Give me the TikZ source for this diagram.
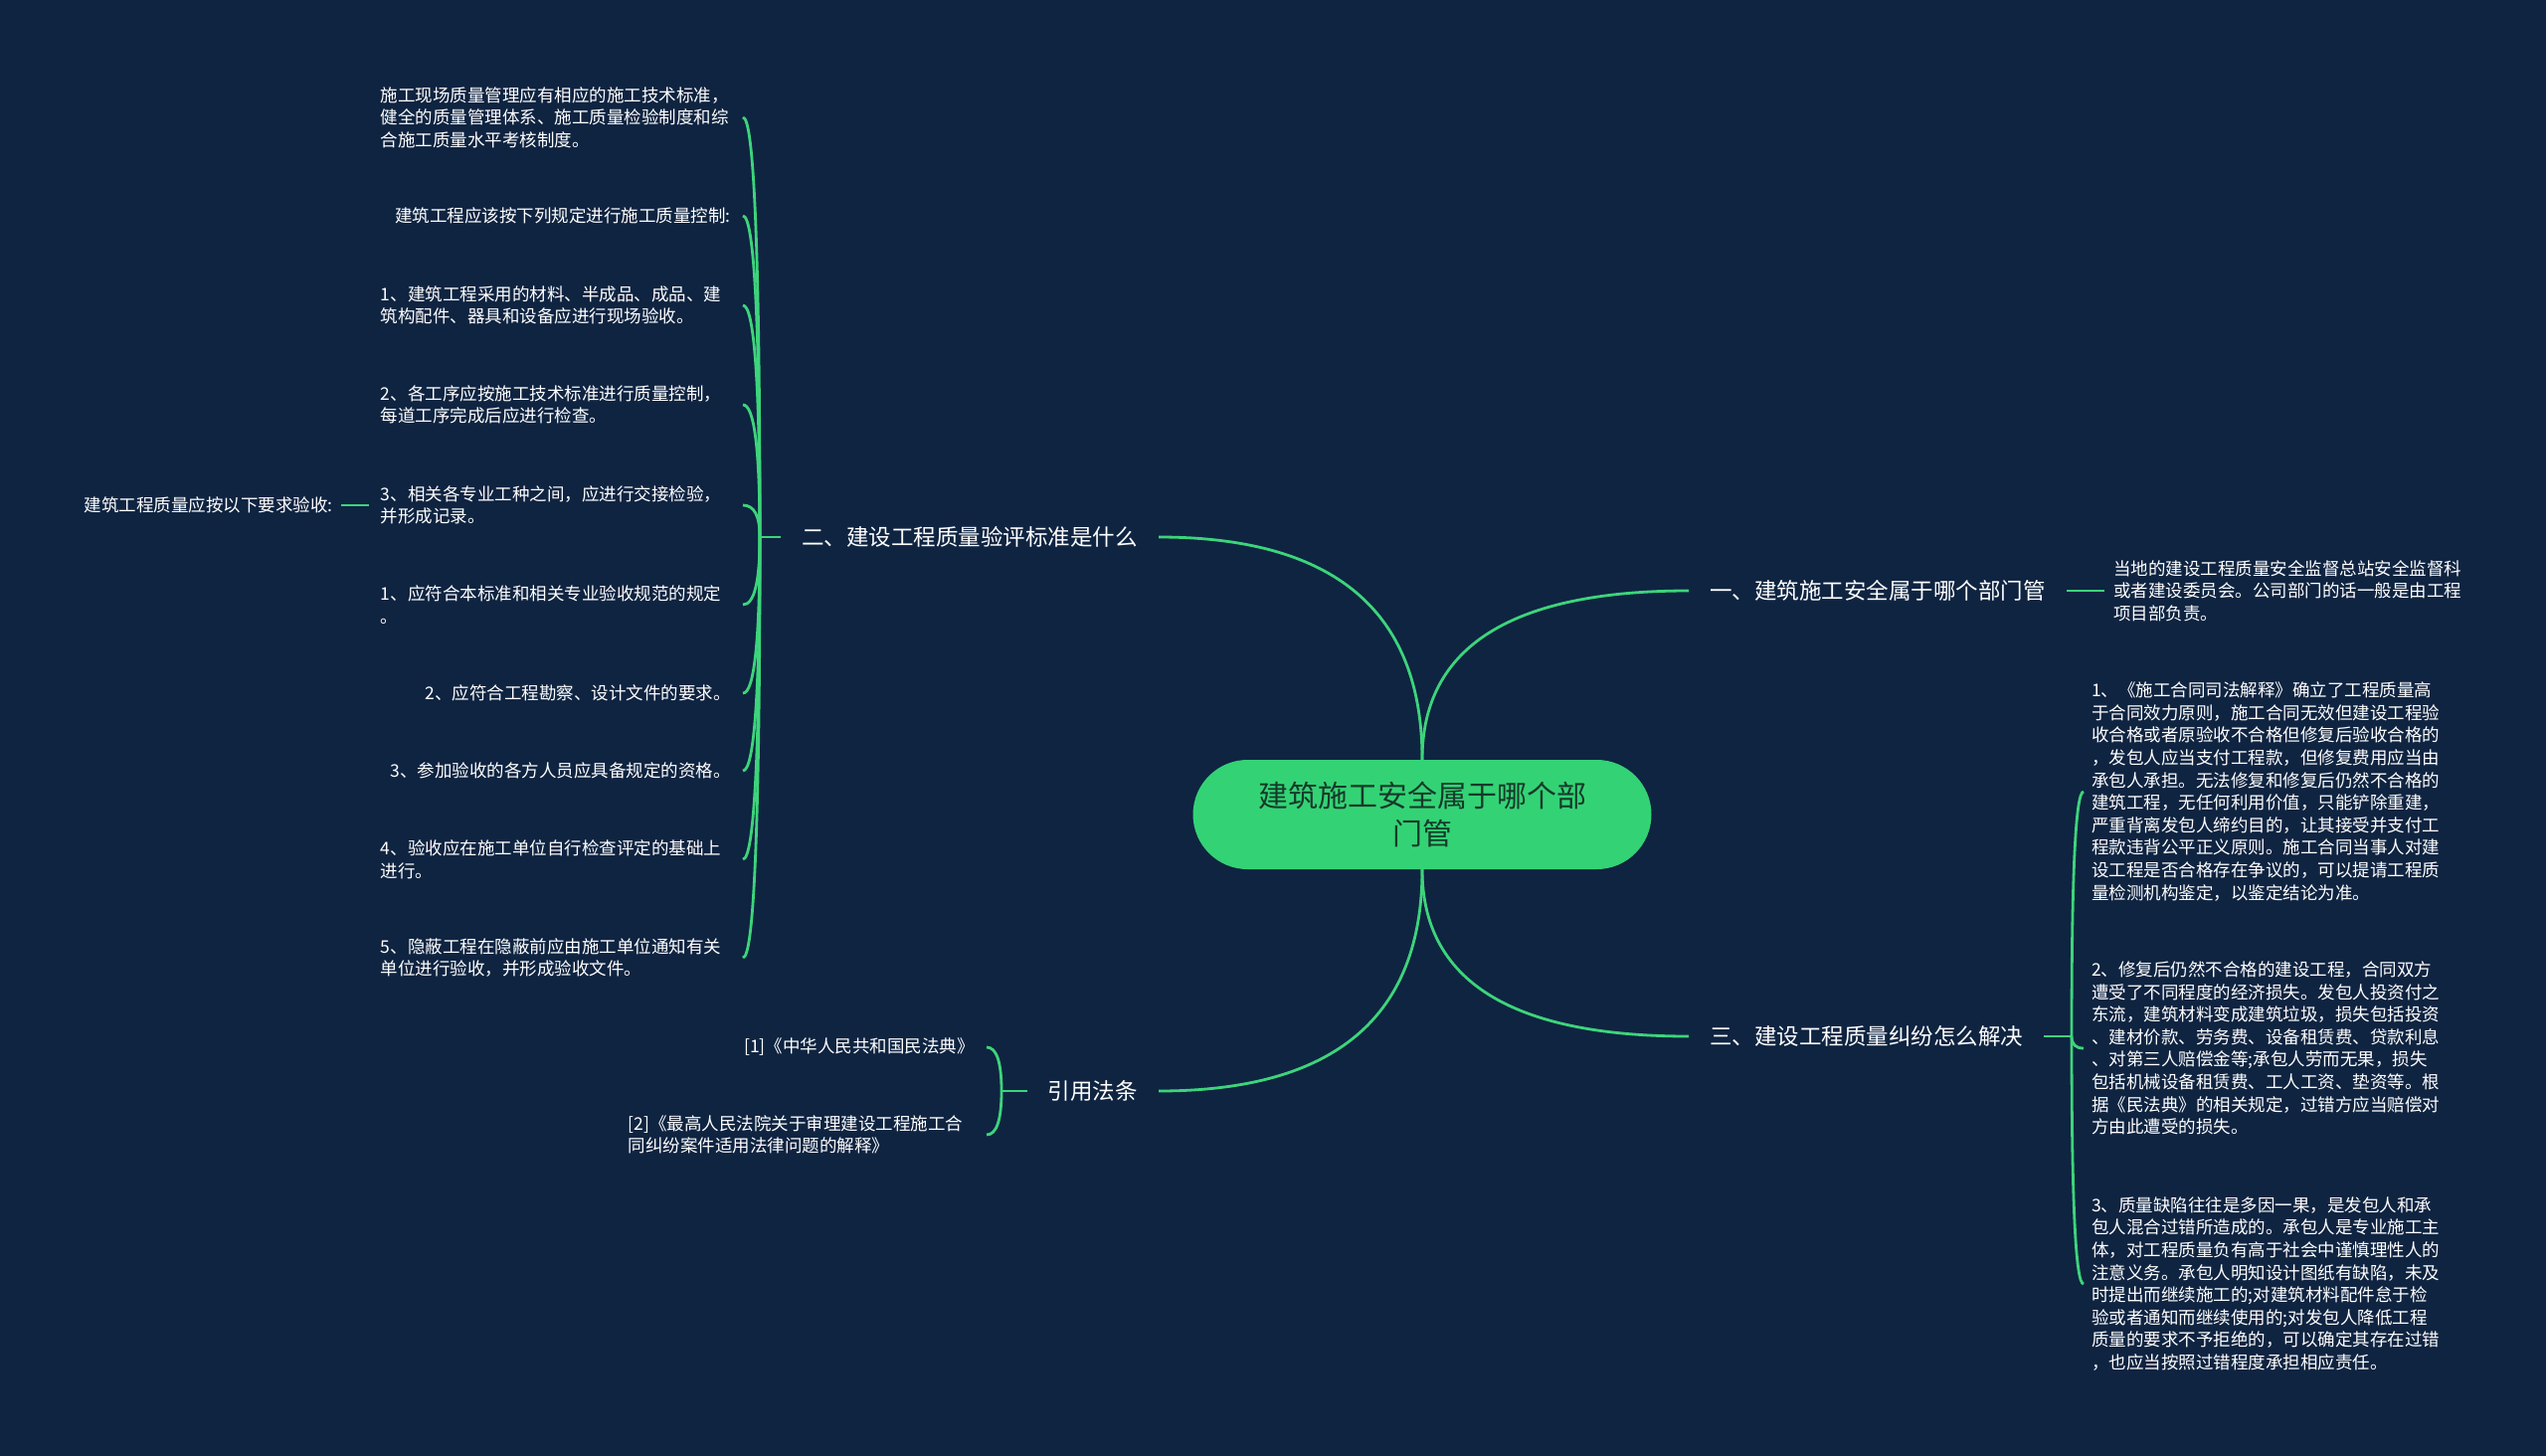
\documentclass[tikz,border=0pt]{standalone}
\usepackage{fontspec}
\setmainfont{Noto Sans CJK SC}
\usetikzlibrary{calc}
\definecolor{bgnavy}{HTML}{0F2441}
\definecolor{mmgreen}{HTML}{33D375}
\definecolor{linkgreen}{HTML}{3DD47B}
\definecolor{roottext}{HTML}{17392A}
\pgfdeclarelayer{bglayer}
\pgfdeclarelayer{linklayer}
\pgfsetlayers{bglayer,linklayer,main}
\tikzset{
  link/.style={draw=linkgreen, line width=2.8pt},
  rootnode/.style={fill=mmgreen, rounded corners=55pt, minimum width=461pt, minimum height=110pt,
    align=center, text=roottext, font=\fontsize{30}{38}\selectfont},
  branch/.style={text=white, inner xsep=21pt, inner ysep=4pt, font=\fontsize{22.5}{28}\selectfont},
  leafL/.style={text=white, anchor=east, inner xsep=12pt, inner ysep=3pt, align=left,
    font=\fontsize{17.5}{22.6}\selectfont},
  leafR/.style={text=white, anchor=west, inner xsep=8pt, inner ysep=3pt, align=left,
    font=\fontsize{17.5}{22.6}\selectfont},
  wide/.style={text width=352pt},
}
% quadratic-like link: start, corner, end
\newcommand\qlink[3]{\draw[link] (#1) .. controls ($(#1)!0.667!(#2)$) and ($(#3)!0.667!(#2)$) .. (#3);}
\begin{document}
\begin{tikzpicture}[x=1pt,y=-1pt]
\useasboundingbox (0,0) rectangle (2560,1464);
\begin{pgfonlayer}{bglayer}
  \fill[bgnavy] (0,0) rectangle (2560,1464);
\end{pgfonlayer}

% root
\node[rootnode] (root) at (1430,819) {建筑施工安全属于哪个部\\门管};

% branches
\node[branch, anchor=east] (b2) at (1165,540) {二、建设工程质量验评标准是什么};
\node[branch, anchor=west] (b1) at (1698,594) {一、建筑施工安全属于哪个部门管};
\node[branch, anchor=west] (b3) at (1698,1042) {三、建设工程质量纠纷怎么解决};
\node[branch, anchor=east] (b4) at (1165,1097) {引用法条};

% left leaves
\node[leafL, wide] (l1) at (747,118) {施工现场质量管理应有相应的施工技术标准，\\健全的质量管理体系、施工质量检验制度和综\\合施工质量水平考核制度。};
\node[leafL] (l2) at (747,217) {建筑工程应该按下列规定进行施工质量控制:};
\node[leafL, wide] (l3) at (747,307) {1、建筑工程采用的材料、半成品、成品、建\\筑构配件、器具和设备应进行现场验收。};
\node[leafL, wide] (l4) at (747,407) {2、各工序应按施工技术标准进行质量控制，\\每道工序完成后应进行检查。};
\node[leafL, wide] (l5) at (747,508) {3、相关各专业工种之间，应进行交接检验，\\并形成记录。};
\node[leafL, wide] (l6) at (747,608) {1、应符合本标准和相关专业验收规范的规定\\。};
\node[leafL] (l7) at (747,697) {2、应符合工程勘察、设计文件的要求。};
\node[leafL] (l8) at (747,775) {3、参加验收的各方人员应具备规定的资格。};
\node[leafL, wide] (l9) at (747,864) {4、验收应在施工单位自行检查评定的基础上\\进行。};
\node[leafL, wide] (l10) at (747,963) {5、隐蔽工程在隐蔽前应由施工单位通知有关\\单位进行验收，并形成验收文件。};
\node[leafL, inner xsep=8pt] (l5c) at (343,508) {建筑工程质量应按以下要求验收:};

% references
\node[leafL] (f1) at (992,1053) {[1]《中华人民共和国民法典》};
\node[leafL, text width=348pt] (f2) at (992,1141) {[2]《最高人民法院关于审理建设工程施工合\\同纠纷案件适用法律问题的解释》};

% right leaves
\node[leafR, wide, inner xsep=9pt] (r0) at (2116,594) {当地的建设工程质量安全监督总站安全监督科\\或者建设委员会。公司部门的话一般是由工程\\项目部负责。};
\node[leafR, wide] (r1) at (2095,796) {1、《施工合同司法解释》确立了工程质量高\\于合同效力原则，施工合同无效但建设工程验\\收合格或者原验收不合格但修复后验收合格的\\，发包人应当支付工程款，但修复费用应当由\\承包人承担。无法修复和修复后仍然不合格的\\建筑工程，无任何利用价值，只能铲除重建，\\严重背离发包人缔约目的，让其接受并支付工\\程款违背公平正义原则。施工合同当事人对建\\设工程是否合格存在争议的，可以提请工程质\\量检测机构鉴定，以鉴定结论为准。};
\node[leafR, wide] (r2) at (2095,1054) {2、修复后仍然不合格的建设工程，合同双方\\遭受了不同程度的经济损失。发包人投资付之\\东流，建筑材料变成建筑垃圾，损失包括投资\\、建材价款、劳务费、设备租赁费、贷款利息\\、对第三人赔偿金等;承包人劳而无果，损失\\包括机械设备租赁费、工人工资、垫资等。根\\据《民法典》的相关规定，过错方应当赔偿对\\方由此遭受的损失。};
\node[leafR, wide] (r3) at (2095,1291) {3、质量缺陷往往是多因一果，是发包人和承\\包人混合过错所造成的。承包人是专业施工主\\体，对工程质量负有高于社会中谨慎理性人的\\注意义务。承包人明知设计图纸有缺陷，未及\\时提出而继续施工的;对建筑材料配件怠于检\\验或者通知而继续使用的;对发包人降低工程\\质量的要求不予拒绝的，可以确定其存在过错\\，也应当按照过错程度承担相应责任。};

% junctions
\coordinate (j2) at (764,540);
\coordinate (j3) at (2083,1042);
\coordinate (j4) at (1007,1097);

\begin{pgfonlayer}{linklayer}
  \qlink{root.north}{root.north |- b2.east}{b2.east}
  \qlink{root.north}{root.north |- b1.west}{b1.west}
  \qlink{root.south}{root.south |- b3.west}{b3.west}
  \qlink{root.south}{root.south |- b4.east}{b4.east}
  % left bracket
  \draw[link] (b2.west) -- (j2);
  \foreach \n in {l1,l2,l3,l4,l5,l6,l7,l8,l9,l10}
    {\qlink{j2}{j2 |- \n.east}{\n.east}}
  \draw[link] (l5.west) -- (l5c.east);
  % right
  \draw[link] (b1.east) -- (r0.west);
  \draw[link] (b3.east) -- (j3);
  \foreach \n in {r1,r2,r3}
    {\qlink{j3}{j3 |- \n.west}{\n.west}}
  % references
  \draw[link] (b4.west) -- (j4);
  \foreach \n in {f1,f2}
    {\qlink{j4}{j4 |- \n.east}{\n.east}}
\end{pgfonlayer}
\end{tikzpicture}
\end{document}
